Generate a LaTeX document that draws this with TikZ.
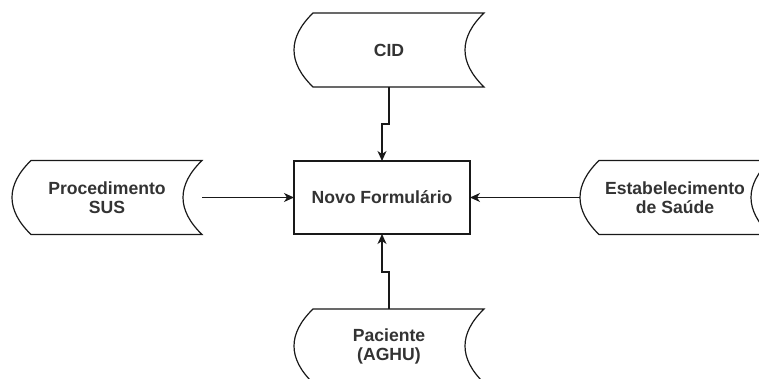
\documentclass[tikz,border=0pt]{standalone}
\usepackage{fontspec}
\setmainfont{Liberation Sans}
\usetikzlibrary{calc,arrows.meta}
\definecolor{txtc}{RGB}{51,51,51}
\definecolor{linec}{RGB}{25,25,25}
\tikzset{
  shapeline/.style={draw=linec, line width=1.2pt},
  conn/.style={draw=linec, line width=1.2pt, -{Stealth[length=10pt,width=9pt,inset=3pt]}},
  storedbox/.style={minimum width=190pt, minimum height=74pt, inner sep=0pt, outer sep=0pt,
    align=center, text=txtc, font=\fontsize{17.6}{19}\selectfont\bfseries},
  procbox/.style={draw=linec, line width=1.2pt, minimum width=176pt, minimum height=73pt,
    inner sep=0pt, outer sep=0pt, align=center, text=txtc, font=\fontsize{17.6}{19}\selectfont\bfseries}
}
\newcommand\storedoutline[1]{%
  \draw[shapeline] ($(#1.north west)+(19,0)$) -- (#1.north east)
    .. controls ($(#1.north east)+(-25.33,24.67)$) and ($(#1.south east)+(-25.33,-24.67)$) .. (#1.south east)
    -- ($(#1.south west)+(19,0)$)
    .. controls ($(#1.south west)+(-6.33,-24.67)$) and ($(#1.north west)+(-6.33,24.67)$) .. cycle;}
\begin{document}
\begin{tikzpicture}[x=1pt,y=-1pt]
\useasboundingbox (0,0) rectangle (759,379);
\clip (0,0) rectangle (759,379);
\node[storedbox] (cid) at (389,50) {CID};
\node[storedbox] (proc) at (107,197.5) {Procedimento\\SUS};
\node[storedbox] (estab) at (675,197.5) {Estabelecimento\\de Saúde};
\node[storedbox] (pac) at (389,346) {Paciente\\(AGHU)};
\node[procbox] (form) at (382,197.5) {Novo Formulário};
\storedoutline{cid}
\storedoutline{proc}
\storedoutline{estab}
\storedoutline{pac}
\draw[conn] (cid.south) -- ++(0,37) -| (form.north);
\draw[conn] (pac.north) -- ++(0,-37) -| (form.south);
\draw[conn] (proc.east) -- (form.west);
\draw[conn] (estab.west) -- (form.east);
\end{tikzpicture}
\end{document}
